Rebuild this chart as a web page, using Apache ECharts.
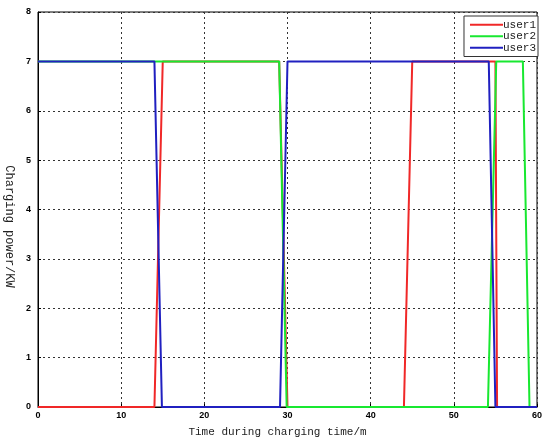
<!DOCTYPE html>
<html>
<head>
<meta charset="utf-8">
<script src="https://cdn.jsdelivr.net/npm/echarts@6/dist/echarts.min.js"></script>
<style>html,body{margin:0;padding:0;background:#fff;}#c{width:550px;height:445px;}</style>
</head>
<body>
<div id="c"></div>
<script>
// time (min), power (kW) breakpoints
var user1 = [[0,0],[14,0],[15,7],[29,7],[30,0],[44,0],[45,7],[55,7],[55.2,0],[60,0]];
var user2 = [[0,7],[29,7],[29.9,0],[54.1,0],[55.1,7],[58.3,7],[59.1,0],[60,0]];
var user3 = [[0,7],[14,7],[14.9,0],[29.1,0],[30,7],[54.2,7],[55,0],[60,0]];
var seriesNames = ['user1','user2','user3'];
var colors = ['#f02828','#18e830','#2020c0'];
var xTicks = [0,10,20,30,40,50,60];
var yTicks = [0,1,2,3,4,5,6,7,8];

var chart = echarts.init(document.getElementById('c'), null, {renderer:'canvas'});
var dataSets = [user1,user2,user3];
var series = seriesNames.map(function(n,i){
  return {name:n,type:'line',data:dataSets[i],symbol:'none',
    lineStyle:{color:colors[i],width:2},itemStyle:{color:colors[i]},z:2+i};
});
var labelFont = {fontFamily:'Liberation Sans',fontWeight:'bold',fontSize:9,color:'#000'};
chart.setOption({
  animation:false,
  backgroundColor:'#fff',
  grid:{left:38,right:13,top:12,bottom:38,containLabel:false,outerBoundsMode:'none',
    show:true,borderColor:'#000',borderWidth:1,backgroundColor:'transparent'},
  legend:{
    data:seriesNames, right:12, top:16, orient:'vertical',
    icon:'rect', itemWidth:33, itemHeight:2, itemGap:0,
    backgroundColor:'#fff', borderColor:'#333', borderWidth:1,
    padding:[3,2,3,6],
    textStyle:{fontFamily:'Liberation Mono',fontSize:11,color:'#222',padding:[1,0,0,-5],lineHeight:10.5}
  },
  xAxis:{
    type:'value', min:xTicks[0], max:xTicks[xTicks.length-1], interval:10,
    name:'Time during charging time/m', nameLocation:'middle', nameGap:20,
    nameTextStyle:{fontFamily:'Liberation Mono',fontSize:11,color:'#222',padding:[0,20,0,0]},
    axisLine:{show:true,lineStyle:{color:'#000',width:1}},
    axisTick:{show:true,inside:true,length:3,lineStyle:{color:'#000'}},
    axisLabel:Object.assign({margin:4},labelFont),
    splitLine:{show:true,lineStyle:{color:'#333',type:[2,3],width:1}}
  },
  yAxis:{
    type:'value', min:yTicks[0], max:yTicks[yTicks.length-1], interval:1,
    name:'Charging power/KW', nameLocation:'middle', nameGap:17, nameRotate:-90,
    nameTextStyle:{fontFamily:'Liberation Mono',fontSize:12,color:'#222',padding:[0,0,0,34]},
    axisLine:{show:true,lineStyle:{color:'#000',width:1}},
    axisTick:{show:true,inside:true,length:3,lineStyle:{color:'#000'}},
    axisLabel:Object.assign({margin:7},labelFont),
    splitLine:{show:true,lineStyle:{color:'#333',type:[2,3],width:1}}
  },
  series:series
});
</script>
</body>
</html>
